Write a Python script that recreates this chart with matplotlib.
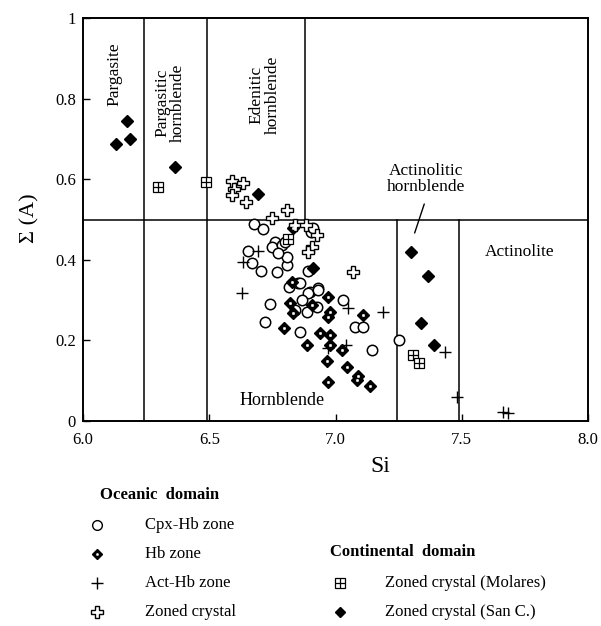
import matplotlib
matplotlib.use("Agg")
from matplotlib import pyplot as plt

plt.rcParams["font.family"] = ["Liberation Serif", "DejaVu Serif"]

# Oceanic domain
cpx_hb_si = [6.679, 6.711, 6.903, 6.912, 6.762, 6.747, 6.787, 6.800, 6.655, 6.668,
             6.705, 6.767, 6.807, 6.807, 6.774, 6.853, 6.815, 6.893, 6.932, 6.900,
             6.741, 6.721, 6.860, 6.860, 6.893, 6.866, 6.886, 6.840, 6.932, 6.925,
             7.031, 7.077, 7.110, 7.143, 7.251]
cpx_hb_a = [0.489, 0.476, 0.470, 0.478, 0.445, 0.433, 0.437, 0.445, 0.423, 0.391,
            0.373, 0.370, 0.387, 0.408, 0.416, 0.342, 0.333, 0.373, 0.329, 0.320,
            0.290, 0.246, 0.222, 0.342, 0.317, 0.300, 0.271, 0.275, 0.325, 0.284,
            0.300, 0.234, 0.234, 0.176, 0.201]

hb_si = [6.830, 6.826, 6.797, 6.886, 6.820, 6.833, 6.906, 6.972, 6.978, 6.972,
         7.110, 6.939, 6.978, 6.978, 7.024, 6.965, 7.044, 6.972, 7.084, 7.091, 7.137]
hb_a = [0.480, 0.346, 0.232, 0.189, 0.292, 0.267, 0.288, 0.308, 0.271, 0.259,
        0.263, 0.218, 0.213, 0.189, 0.176, 0.150, 0.133, 0.098, 0.102, 0.112, 0.087]

act_hb_si = [6.693, 6.635, 6.631, 7.051, 7.190, 6.972, 7.040, 7.435, 7.483, 7.665, 7.682]
act_hb_a = [0.422, 0.395, 0.318, 0.280, 0.271, 0.180, 0.189, 0.172, 0.060, 0.023, 0.021]

zoned_si = [6.589, 6.632, 6.599, 6.590, 6.646, 6.807, 6.747, 6.840, 6.882, 6.925,
            6.906, 6.893, 7.070]
zoned_a = [0.596, 0.590, 0.575, 0.560, 0.543, 0.524, 0.503, 0.486, 0.486, 0.462,
           0.433, 0.420, 0.370]

# Continental domain
molares_si = [6.296, 6.487, 7.308, 7.329, 6.812]
molares_a = [0.581, 0.594, 0.165, 0.143, 0.452]

sanc_si = [6.131, 6.174, 6.186, 6.364, 6.692, 6.912, 7.299, 7.365, 7.339, 7.390]
sanc_a = [0.687, 0.744, 0.700, 0.630, 0.5625, 0.379, 0.419, 0.360, 0.242, 0.188]

# field boundaries (Si) and Sigma(A) split
full_lines = [6.24, 6.49]
upper_lines = [6.88]
lower_lines = [7.245, 7.49]
a_split = 0.5

fig = plt.figure(figsize=(6.01, 6.26), dpi=100)
ax = fig.add_axes([83 / 601, 1 - 421 / 626, 505 / 601, 403 / 626])
ax.set_xlim(6.0, 8.0)
ax.set_ylim(0, 1)

lw = 1.1
for x in full_lines:
    ax.axvline(x, color="black", lw=lw, zorder=1)
for x in upper_lines:
    ax.axvline(x, ymin=a_split, ymax=1, color="black", lw=lw, zorder=1)
for x in lower_lines:
    ax.axvline(x, ymin=0, ymax=a_split, color="black", lw=lw, zorder=1)
ax.axhline(a_split, color="black", lw=lw, zorder=1)

ax.plot(cpx_hb_si, cpx_hb_a, "o", ms=7.5, mfc="white", mec="black", mew=1.1, ls="none", zorder=3)
ax.plot(hb_si, hb_a, "D", ms=6, mfc="black", mec="black", ls="none", zorder=4)
ax.plot(hb_si, hb_a, "o", ms=1.8, mfc="white", mec="white", mew=0.3, ls="none", zorder=5)
ax.plot(act_hb_si, act_hb_a, "+", ms=8, mec="black", mew=1.0, ls="none", zorder=4)
ax.plot(zoned_si, zoned_a, "P", ms=8, mfc="white", mec="black", mew=1.0, ls="none", zorder=4)
ax.plot(molares_si, molares_a, "s", ms=6.5, mfc="white", mec="black", mew=0.9, ls="none", zorder=4)
ax.plot(molares_si, molares_a, "+", ms=6.5, mec="black", mew=0.9, ls="none", zorder=5)
ax.plot(sanc_si, sanc_a, "D", ms=6, mfc="black", mec="black", ls="none", zorder=4)

tfs = 12.5
ax.text(6.125, 0.86, "Pargasite", rotation=90, ha="center", va="center", fontsize=tfs)
ax.text(6.345, 0.79, "Pargasitic\nhornblende", rotation=90, ha="center", va="center",
        fontsize=tfs, linespacing=1.0)
ax.text(6.72, 0.81, "Edenitic\nhornblende", rotation=90, ha="center", va="center",
        fontsize=tfs, linespacing=1.0)
ax.text(7.36, 0.60, "Actinolitic\nhornblende", ha="center", va="center",
        fontsize=tfs, linespacing=1.0)
ax.annotate("", xy=(7.31, 0.46), xytext=(7.355, 0.545),
            arrowprops=dict(arrowstyle="-", color="black", lw=1.0))
ax.text(7.73, 0.42, "Actinolite", ha="center", va="center", fontsize=tfs)
ax.text(6.79, 0.05, "Hornblende", ha="center", va="center", fontsize=13)

ax.set_xticks([6.0, 6.5, 7.0, 7.5, 8.0])
ax.set_xticklabels(["6.0", "6.5", "7.0", "7.5", "8.0"])
ax.set_yticks([0, 0.2, 0.4, 0.6, 0.8, 1.0])
ax.set_yticklabels(["0", "0.2", "0.4", "0.6", "0.8", "1"])
ax.tick_params(direction="in", length=5, width=1.0, labelsize=12)
ax.tick_params(axis="x", pad=8)
ax.tick_params(axis="y", pad=5)
for s in ax.spines.values():
    s.set_linewidth(1.4)

fig.text(380 / 601, 1 - 466 / 626, "Si", ha="center", va="center", fontsize=17)
fig.text(30 / 601, 1 - 218 / 626, "\u03a3 (A)", ha="center", va="center",
         rotation=90, fontsize=16)

# legend drawn in pixel space of the figure
lax = fig.add_axes([0, 0, 1, 1], zorder=-1)
lax.set_xlim(0, 601)
lax.set_ylim(626, 0)
lax.axis("off")

lfs = 12
lax.text(100, 495, "Oceanic  domain", fontsize=lfs, fontweight="bold", va="center")
rows = [525, 554, 583, 612]
labels = ["Cpx-Hb zone", "Hb zone", "Act-Hb zone", "Zoned crystal"]
for y, lab in zip(rows, labels):
    lax.text(145, y, lab, fontsize=lfs, va="center")
lax.plot(97, rows[0], "o", ms=7, mfc="white", mec="black", mew=1.0)
lax.plot(97, rows[1], "D", ms=5.5, mfc="black", mec="black")
lax.plot(97, rows[1], "o", ms=1.6, mfc="white", mec="white", mew=0.3)
lax.plot(97, rows[2], "+", ms=8, mec="black", mew=1.0)
lax.plot(97, rows[3], "P", ms=8, mfc="white", mec="black", mew=1.0)

lax.text(330, 552, "Continental  domain", fontsize=lfs, fontweight="bold", va="center")
lax.text(385, 583, "Zoned crystal (Molares)", fontsize=lfs, va="center")
lax.text(385, 612, "Zoned crystal (San C.)", fontsize=lfs, va="center")
lax.plot(340, 583, "s", ms=6.5, mfc="white", mec="black", mew=0.9)
lax.plot(340, 583, "+", ms=6.5, mec="black", mew=0.9)
lax.plot(340, 612, "D", ms=5.5, mfc="black", mec="black")

fig.savefig("out.png", dpi=100)
